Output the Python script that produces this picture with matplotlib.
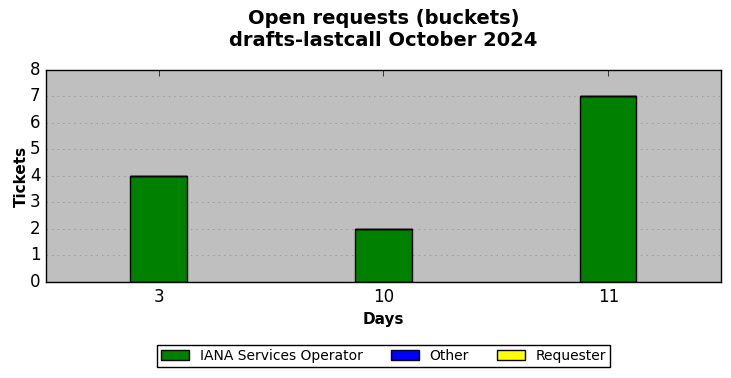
import matplotlib
matplotlib.use("Agg")
import matplotlib.pyplot as plt
import numpy as np

plt.style.use("classic")

days = ["3", "10", "11"]
iana = [4, 2, 7]
other = [0, 0, 0]
requester = [0, 0, 0]

x = np.arange(len(days))
width = 0.25

fig = plt.figure(figsize=(7.31, 3.78), dpi=100, facecolor="white")
ax = fig.add_axes([0.063, 0.254, 0.923, 0.561])
ax.set_facecolor("#bfbfbf")

ax.bar(x, iana, width, align="center", color="green", edgecolor="black", label="IANA Services Operator")
ax.bar(x, other, width, bottom=iana, align="center", color="blue", edgecolor="black", label="Other")
bottom2 = np.array(iana) + np.array(other)
ax.bar(x, requester, width, bottom=bottom2, align="center", color="yellow", edgecolor="black", label="Requester")

ax.set_xlim(-0.5, 2.5)
ax.set_ylim(0, 8)
ax.set_xticks(x)
ax.set_xticklabels(days)
ax.yaxis.grid(True, linestyle=":", color="#888888")
ax.set_axisbelow(True)
ax.tick_params(axis="y", which="both", left=False, right=False)

ax.set_xlabel("Days", fontweight="bold", fontsize=11)
ax.set_ylabel("Tickets", fontweight="bold", fontsize=11, labelpad=1)
fig.suptitle("Open requests (buckets)\ndrafts-lastcall October 2024", fontweight="bold", fontsize=14,
             x=0.5245, y=0.975)

fig.legend(loc="center", bbox_to_anchor=(0.525, 0.059), ncol=3, fontsize=10, frameon=True,
           handlelength=2.0, handleheight=0.7, borderpad=0.3, columnspacing=2.0)

fig.savefig("out.png", dpi=100, facecolor="white")
